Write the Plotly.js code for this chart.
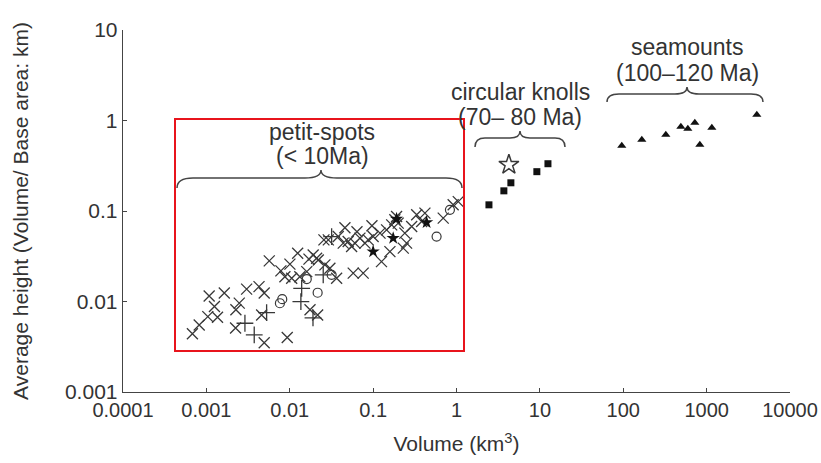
<!DOCTYPE html>
<html>
<head>
<meta charset="utf-8">
<script src="https://cdn.plot.ly/plotly-3.0.1.min.js"></script>
<style>html,body{margin:0;padding:0;background:#fff;}#chart{width:821px;height:463px;}</style>
</head>
<body>
<div id="chart"></div>
<script>
// ---- data (volume km^3, average height km) ----
const xTickVals = [0.0001, 0.001, 0.01, 0.1, 1, 10, 100, 1000, 10000];
const xTickText = ["0.0001", "0.001", "0.01", "0.1", "1", "10", "100", "1000", "10000"];
const yTickVals = [0.001, 0.01, 0.1, 1, 10];
const yTickText = ["0.001", "0.01", "0.1", "1", "10"];

// petit-spots: "x" symbols
const petitXVol = [0.00068, 0.00082, 0.00104, 0.00108, 0.00164, 0.00125, 0.00136, 0.00224, 0.00226, 0.00248,
  0.00304, 0.00428, 0.00494, 0.0046, 0.00568, 0.00494, 0.00933, 0.00783, 0.01005, 0.01245,
  0.017, 0.021, 0.0175, 0.0216, 0.0257, 0.00875, 0.01055, 0.0132, 0.016, 0.0191,
  0.022, 0.0264, 0.0303, 0.0365, 0.0577, 0.076, 0.029, 0.0382, 0.0438, 0.0502,
  0.0552, 0.0605, 0.0695, 0.0798, 0.0873, 0.1, 0.121, 0.126, 0.145, 0.159,
  0.167, 0.182, 0.191, 0.2, 0.24, 0.23, 0.252, 0.29, 0.333, 0.382,
  0.418, 0.693, 0.912, 1.05, 0.0459, 0.064, 0.0968];
const petitXHgt = [0.0044, 0.0055, 0.0068, 0.0115, 0.0124, 0.0088, 0.0067, 0.0051, 0.0081, 0.0096,
  0.0137, 0.0146, 0.0124, 0.0071, 0.0281, 0.0035, 0.0040, 0.0218, 0.0259, 0.0342,
  0.0294, 0.0301, 0.0081, 0.0071, 0.048, 0.0188, 0.0181, 0.0188, 0.0214, 0.0327,
  0.0288, 0.0254, 0.0233, 0.0181, 0.0206, 0.0206, 0.048, 0.0522, 0.0442, 0.046,
  0.0405, 0.0442, 0.0501, 0.0442, 0.048, 0.0522, 0.057, 0.0276, 0.0619, 0.0356,
  0.0703, 0.08, 0.0869, 0.0735, 0.057, 0.0389, 0.0442, 0.0675, 0.0908, 0.0766,
  0.0948, 0.0834, 0.117, 0.127, 0.0652, 0.0589, 0.0686];

// petit-spots: "+" symbols
const petitPlusVol = [0.0029, 0.00375, 0.00528, 0.0139, 0.0136, 0.0252, 0.0318, 0.019];
const petitPlusHgt = [0.00575, 0.00428, 0.00754, 0.014, 0.00998, 0.0197, 0.0522, 0.0066];

// petit-spots: open circles
const petitCircVol = [0.00762, 0.00813, 0.016, 0.0216, 0.0318, 0.577, 0.834];
const petitCircHgt = [0.00957, 0.0106, 0.0177, 0.0125, 0.0197, 0.0522, 0.103];

// petit-spots: filled stars
const petitStarVol = [0.1, 0.174, 0.438, 0.191];
const petitStarHgt = [0.0356, 0.0501, 0.0747, 0.082];

// circular knolls
const knollVol = [2.45, 3.7, 4.49, 9.2, 12.5];
const knollHgt = [0.117, 0.167, 0.205, 0.272, 0.333];
const knollStarVol = [4.25];
const knollStarHgt = [0.325];

// seamounts
const seaVol = [96, 167, 324, 491, 595, 722, 1155, 829, 4000];
const seaHgt = [0.526, 0.614, 0.697, 0.853, 0.81, 0.946, 0.83, 0.54, 1.16];

// ---- layout helpers (pixel -> paper) ----
const L = 123, R = 790, T = 30, B = 392;
const px = x => (x - L) / (R - L);
const py = y => (B - y) / (B - T);
function brace(xL, xR, xM, yTip, yBar, yEnd, r) {
  const p = (x, y) => px(x).toFixed(5) + ',' + py(y).toFixed(5);
  return 'M' + p(xL, yEnd) +
    ' Q' + p(xL, yBar) + ' ' + p(xL + r, yBar) +
    ' L' + p(xM - r, yBar) +
    ' Q' + p(xM, yBar) + ' ' + p(xM, yTip) +
    ' Q' + p(xM, yBar) + ' ' + p(xM + r, yBar) +
    ' L' + p(xR - r, yBar) +
    ' Q' + p(xR, yBar) + ' ' + p(xR, yEnd);
}

const ink = '#383838';
const traces = [
  {x: petitXVol, y: petitXHgt, type: 'scatter', mode: 'markers',
   marker: {symbol: 'x-thin-open', size: 11, color: ink, line: {color: ink, width: 1.3}}},
  {x: petitPlusVol, y: petitPlusHgt, type: 'scatter', mode: 'markers',
   marker: {symbol: 'cross-thin-open', size: 12, color: ink, line: {color: ink, width: 1.3}}},
  {x: petitCircVol, y: petitCircHgt, type: 'scatter', mode: 'markers',
   marker: {symbol: 'circle-open', size: 9, color: ink, line: {color: ink, width: 1.2}}},
  {x: petitStarVol, y: petitStarHgt, type: 'scatter', mode: 'markers',
   marker: {symbol: 'star', size: 10, color: '#111', line: {width: 0}}},
  {x: knollVol, y: knollHgt, type: 'scatter', mode: 'markers',
   marker: {symbol: 'square', size: 7, color: '#111', line: {width: 0}}},
  {x: knollStarVol, y: knollStarHgt, type: 'scatter', mode: 'markers',
   marker: {symbol: 'star-open', size: 15, color: ink, line: {color: ink, width: 1.5}}},
  {x: seaVol, y: seaHgt, type: 'scatter', mode: 'markers',
   marker: {symbol: 'triangle-up', size: 8, color: '#111', line: {width: 0}}}
];

const fam = 'Liberation Sans, Arial, sans-serif';
const annFont = {family: fam, size: 23, color: '#333'};
function label(text, x, y) {
  return {text: text, xref: 'paper', yref: 'paper', x: px(x), y: py(y),
          xanchor: 'center', yanchor: 'middle', showarrow: false, font: annFont};
}

const layout = {
  width: 821, height: 463,
  margin: {l: L, r: 821 - R, t: T, b: 463 - B},
  paper_bgcolor: '#fff', plot_bgcolor: '#fff',
  showlegend: false,
  font: {family: fam, size: 20, color: '#333'},
  xaxis: {
    type: 'log', range: [-4, 4], tickvals: xTickVals, ticktext: xTickText,
    showgrid: false, zeroline: false, showline: true, linecolor: '#444', linewidth: 1.3,
    ticks: 'inside', ticklen: 4, tickcolor: '#444', tickfont: {family: fam, size: 20, color: '#333'},
    title: {text: 'Volume (km<sup>3</sup>)', font: {family: fam, size: 21, color: '#333'}, standoff: 16}
  },
  yaxis: {
    type: 'log', range: [-3, 1], tickvals: yTickVals, ticktext: yTickText,
    showgrid: false, zeroline: false, showline: true, linecolor: '#444', linewidth: 1.3,
    ticks: 'inside', ticklen: 4, tickcolor: '#444', tickfont: {family: fam, size: 21, color: '#333'},
    title: {text: 'Average height (Volume/ Base area: km)', font: {family: fam, size: 21, color: '#333'}, standoff: 30}
  },
  shapes: [
    {type: 'rect', xref: 'paper', yref: 'paper', x0: px(175), x1: px(464), y0: py(351), y1: py(119),
     line: {color: '#e8141c', width: 2}},
    {type: 'path', xref: 'paper', yref: 'paper', path: brace(177, 462, 321, 170, 178, 188, 16),
     line: {color: '#444', width: 1.5}},
    {type: 'path', xref: 'paper', yref: 'paper', path: brace(475, 565, 520, 131, 138, 147, 10),
     line: {color: '#444', width: 1.5}},
    {type: 'path', xref: 'paper', yref: 'paper', path: brace(607, 763, 687, 87, 94, 102, 12),
     line: {color: '#444', width: 1.5}}
  ],
  annotations: [
    label('petit-spots', 322, 132),
    label('(&lt; 10Ma)', 322, 156),
    label('circular knolls', 520, 92),
    label('(70– 80 Ma)', 520, 117),
    label('seamounts', 687, 47),
    label('(100–120 Ma)', 687, 73)
  ]
};

Plotly.newPlot('chart', traces, layout, {displayModeBar: false, staticPlot: true});
</script>
</body>
</html>
